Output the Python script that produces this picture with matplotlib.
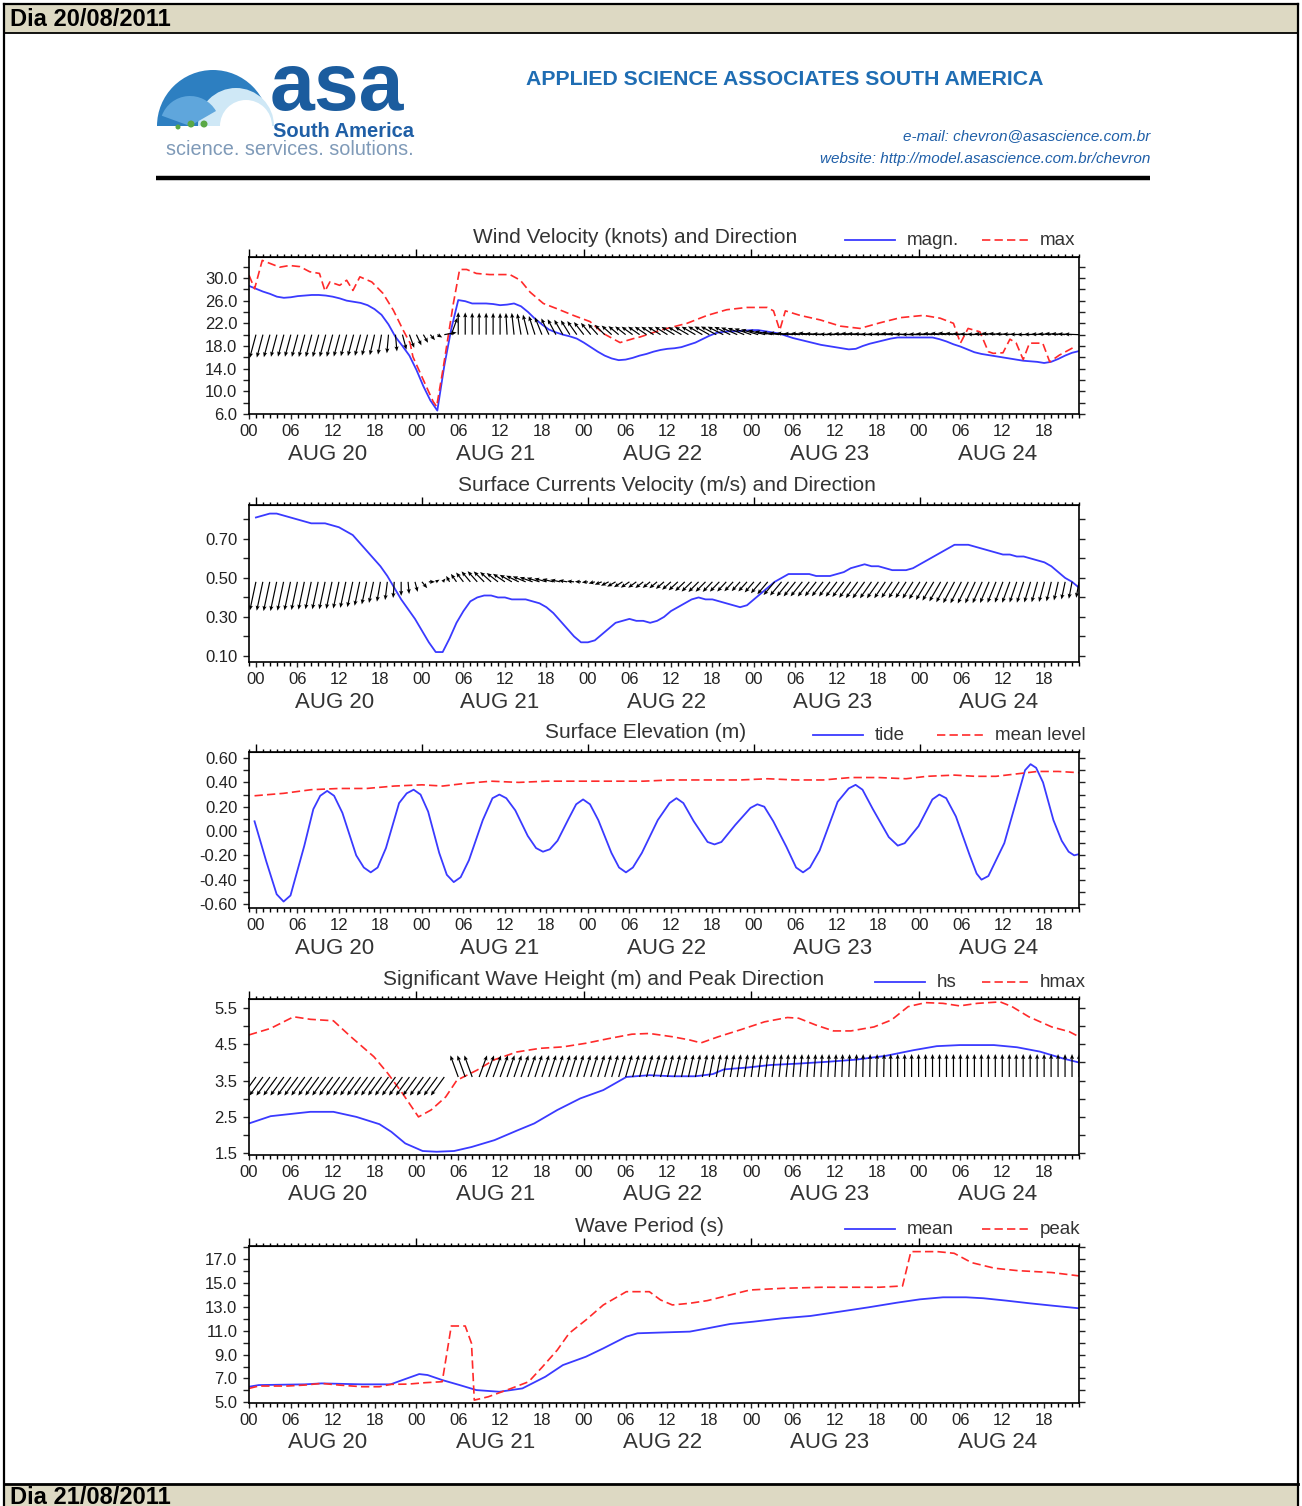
import numpy as np
import matplotlib
matplotlib.use('Agg')
import matplotlib.pyplot as plt
from matplotlib.ticker import MultipleLocator, FixedLocator
from matplotlib.patches import Rectangle, Wedge, Circle
import matplotlib.transforms as mtransforms

plt.rcParams['font.family'] = ['Liberation Sans', 'DejaVu Sans']

# ---------------- data (hours from AUG 20 00) ----------------
# wind: hourly magnitude (knots) and arrow bearing (deg, 0 = up)
wind_speed = [28.6, 28.1, 27.6, 27.2, 26.7, 26.5, 26.6, 26.8, 26.9, 27.0,
              27.0, 26.9, 26.7, 26.4, 26.0, 25.8, 25.6, 25.2, 24.5, 23.5,
              21.8, 19.6, 18.0, 16.3, 13.8, 10.9, 8.4, 6.6, 14.5, 21.0,
              26.1, 25.9, 25.5, 25.5, 25.5, 25.4, 25.2, 25.3, 25.5, 25.0,
              24.0, 22.8, 21.8, 20.9, 20.4, 20.0, 19.7, 19.3, 18.6, 17.8,
              17.0, 16.3, 15.8, 15.5, 15.6, 15.9, 16.3, 16.6, 17.0, 17.3,
              17.5, 17.6, 17.8, 18.2, 18.6, 19.2, 19.8, 20.3, 20.5, 20.6,
              20.6, 20.7, 20.8, 20.8, 20.6, 20.4, 20.2, 19.8, 19.4, 19.1,
              18.8, 18.5, 18.2, 18.0, 17.8, 17.6, 17.4, 17.5, 18.0, 18.4,
              18.7, 19.0, 19.3, 19.5, 19.5, 19.5, 19.5, 19.5, 19.5, 19.2,
              18.8, 18.3, 17.9, 17.4, 16.9, 16.6, 16.4, 16.2, 16.0, 15.8,
              15.6, 15.4, 15.3, 15.2, 15.0, 15.2, 15.7, 16.3, 16.8, 17.1]
wind_dir = [195, 195, 195, 195, 195, 195, 195, 195, 195, 195,
            195, 195, 195, 195, 195, 195, 195, 195, 193, 190,
            185, 175, 165, 160, 155, 150, 140, 120, 80, 20,
            0, 0, 0, 0, 0, 0, 0, 357, 354, 350,
            346, 342, 338, 335, 332, 330, 328, 325, 322, 320,
            318, 315, 312, 310, 308, 306, 305, 304, 303, 302,
            302, 301, 300, 300, 300, 300, 299, 298, 297, 296,
            294, 292, 290, 287, 284, 281, 278, 276, 275, 274,
            275, 276, 274, 273, 272, 273, 274, 275, 274, 273,
            272, 272, 273, 274, 273, 272, 271, 272, 273, 274,
            275, 276, 275, 274, 273, 272, 274, 276, 275, 274,
            273, 272, 271, 272, 273, 274, 275, 274, 273, 272]
wind_max_h = [0, 0.8, 1.9, 4.4, 5.8, 7.3, 8.7, 10.1, 10.9, 11.6,
              13, 14, 14.9, 15.9, 17.6, 19.2, 20.7, 22.1, 23.1, 23.5,
              25, 26.4, 26.9, 27.8, 29.3, 30.2, 31.2, 32.6, 34.5, 37.4,
              38.9, 40.3, 42.2, 44.1, 46.5, 48.9, 50.8, 53.2, 55.1, 56.1,
              59, 62.8, 65.7, 68.5, 71.4, 74.3, 75.2, 76.1, 76.9, 79,
              81.9, 84.8, 87.6, 90.5, 93.4, 96.7, 99.1, 101, 102, 103.1,
              104.8, 106, 106.7, 108.1, 109.1, 110, 111, 111.9, 113.8, 114.8,
              116.2, 118.6]
wind_max = [30.5, 28.1, 33.1, 31.9, 32.2, 32.0, 31.1, 30.8, 27.7, 29.3,
            28.7, 29.6, 27.8, 30.2, 29.3, 27.3, 24.3, 20.8, 18.5, 16.1,
            12.0, 8.2, 7.3, 13.8, 25.5, 31.5, 31.5, 30.8, 30.6, 30.6,
            29.6, 27.5, 25.5, 24.6, 23.4, 22.3, 20.2, 18.6, 19.3, 19.6,
            20.8, 22.0, 23.4, 24.4, 24.8, 24.8, 24.2, 20.8, 24.2, 23.4,
            22.6, 21.5, 21.1, 22.1, 23.0, 23.4, 22.9, 22.0, 18.5, 21.1,
            20.5, 17.0, 16.7, 16.8, 19.2, 18.5, 15.6, 18.5, 18.5, 15.2,
            16.4, 18.0]

# surface currents: hourly speed (m/s) and arrow bearing
cur_speed = [0.81, 0.82, 0.83, 0.83, 0.82, 0.81, 0.80, 0.79, 0.78, 0.78,
             0.78, 0.77, 0.76, 0.74, 0.72, 0.68, 0.64, 0.60, 0.56, 0.51,
             0.45, 0.39, 0.34, 0.29, 0.23, 0.17, 0.12, 0.12, 0.19, 0.27,
             0.33, 0.38, 0.40, 0.41, 0.41, 0.40, 0.40, 0.39, 0.39, 0.39,
             0.38, 0.37, 0.35, 0.32, 0.28, 0.24, 0.20, 0.17, 0.17, 0.18,
             0.21, 0.24, 0.27, 0.28, 0.29, 0.28, 0.28, 0.27, 0.28, 0.30,
             0.33, 0.35, 0.37, 0.39, 0.40, 0.39, 0.39, 0.38, 0.37, 0.36,
             0.35, 0.36, 0.39, 0.42, 0.45, 0.48, 0.50, 0.52, 0.52, 0.52,
             0.52, 0.51, 0.51, 0.51, 0.52, 0.53, 0.55, 0.56, 0.57, 0.56,
             0.56, 0.55, 0.54, 0.54, 0.54, 0.55, 0.57, 0.59, 0.61, 0.63,
             0.65, 0.67, 0.67, 0.67, 0.66, 0.65, 0.64, 0.63, 0.62, 0.62,
             0.61, 0.61, 0.60, 0.59, 0.58, 0.56, 0.53, 0.50, 0.48, 0.45]
cur_dir = [192, 192, 192, 192, 192, 192, 192, 192, 192, 192,
           192, 192, 192, 192, 192, 192, 192, 192, 190, 187,
           184, 180, 175, 165, 140, 90, 60, 40, 330, 325,
           322, 320, 318, 315, 312, 308, 304, 300, 296, 293,
           290, 288, 286, 284, 282, 280, 276, 272, 265, 255,
           248, 243, 240, 238, 236, 234, 232, 231, 230, 229,
           228, 227, 226, 226, 225, 225, 224, 224, 223, 223,
           222, 222, 221, 221, 220, 220, 220, 219, 219, 219,
           218, 218, 218, 217, 217, 217, 216, 216, 216, 215,
           215, 214, 214, 213, 213, 212, 212, 211, 211, 210,
           209, 208, 207, 206, 205, 204, 203, 202, 201, 200,
           199, 198, 197, 196, 195, 194, 193, 192, 191, 190]

# surface elevation
tide_h = [-0.2, 1.5, 3.0, 4.0, 5.0, 7.0, 8.3, 9.3, 10.3, 11.3,
          12.5, 14.5, 15.6, 16.6, 17.6, 18.8, 20.7, 21.8, 22.8, 23.8,
          24.9, 26.5, 27.6, 28.6, 29.6, 30.8, 32.8, 34.2, 35.2, 36.2,
          37.5, 39.3, 40.5, 41.5, 42.5, 43.6, 45.2, 46.3, 47.3, 48.3,
          49.5, 51.4, 52.5, 53.5, 54.5, 55.8, 58.1, 59.8, 60.8, 61.8,
          63.3, 65.3, 66.3, 67.3, 69.3, 71.5, 72.5, 73.5, 74.8, 76.7,
          78.1, 79.1, 80.1, 81.5, 84.1, 85.7, 86.7, 87.7, 89.2, 91.5,
          92.8, 93.8, 95.8, 97.8, 98.8, 99.8, 101.2, 103.2, 104.2, 104.9,
          105.9, 108.2, 110.3, 111.2, 112.0, 112.8, 113.8, 115.3, 116.5, 117.5,
          118.3, 119.0]
tide = [0.08, -0.25, -0.52, -0.58, -0.53, -0.12, 0.18, 0.29, 0.33, 0.29,
        0.15, -0.20, -0.30, -0.34, -0.30, -0.14, 0.23, 0.31, 0.34, 0.30,
        0.16, -0.18, -0.36, -0.42, -0.38, -0.24, 0.09, 0.27, 0.30, 0.27,
        0.17, -0.04, -0.14, -0.17, -0.15, -0.08, 0.10, 0.22, 0.26, 0.22,
        0.09, -0.18, -0.30, -0.34, -0.30, -0.18, 0.09, 0.23, 0.27, 0.23,
        0.08, -0.09, -0.11, -0.09, 0.05, 0.19, 0.22, 0.20, 0.08, -0.13,
        -0.30, -0.34, -0.30, -0.16, 0.24, 0.35, 0.38, 0.34, 0.18, -0.05,
        -0.12, -0.10, 0.04, 0.26, 0.30, 0.27, 0.12, -0.20, -0.35, -0.40,
        -0.37, -0.10, 0.32, 0.50, 0.55, 0.52, 0.40, 0.09, -0.08, -0.17,
        -0.20, -0.19]
mean_lvl_h = [-0.2, 4, 8, 12, 16, 20, 24, 27, 30, 34, 38, 42, 50, 56, 60,
              70, 74, 78, 82, 86, 90, 94, 97, 101, 104, 107, 110, 113, 116, 119]
mean_lvl = [0.29, 0.31, 0.34, 0.35, 0.35, 0.37, 0.38, 0.37, 0.39, 0.41,
            0.40, 0.41, 0.41, 0.41, 0.42, 0.42, 0.43, 0.42, 0.42, 0.44,
            0.44, 0.43, 0.45, 0.46, 0.45, 0.45, 0.47, 0.49, 0.49, 0.48]

# waves
hs_h = [0, 3.1, 6.4, 8.8, 12.1, 15.4, 18.7, 20.4, 22.4, 24.9,
        26.9, 29.4, 31.9, 35.2, 38.5, 40.9, 44.2, 47.5, 50.8, 54.1,
        57.4, 60.7, 64, 66.5, 68.1, 71.4, 74.7, 78.8, 83, 87.1,
        91.2, 95.3, 98.6, 101.9, 106.8, 110.1, 113.4, 116.7, 119]
hs = [2.32, 2.52, 2.59, 2.64, 2.64, 2.50, 2.30, 2.09, 1.77, 1.56,
      1.54, 1.56, 1.67, 1.86, 2.13, 2.32, 2.69, 3.01, 3.24, 3.60,
      3.65, 3.62, 3.62, 3.68, 3.81, 3.86, 3.93, 3.97, 4.02, 4.08,
      4.18, 4.34, 4.45, 4.48, 4.48, 4.42, 4.30, 4.11, 4.00]
hmax_h = [0, 3.1, 6.4, 8.8, 12.1, 14.6, 17.9, 19.9, 22, 24.3,
          26.1, 28.2, 29.8, 32.7, 35.1, 38.4, 41.7, 45, 48.3, 51.6,
          54.9, 57.4, 60.7, 63.2, 64.8, 67.3, 70.6, 73.9, 77.2, 78.8,
          81.3, 83.8, 86.3, 89.6, 92.1, 94.5, 97, 99.5, 101.9, 104.4,
          107.7, 109.4, 111.8, 115.1, 117.6, 119]
hmax = [4.76, 4.94, 5.26, 5.19, 5.15, 4.71, 4.16, 3.70, 3.15, 2.50,
        2.69, 3.05, 3.51, 3.79, 4.07, 4.29, 4.39, 4.43, 4.53, 4.66,
        4.78, 4.80, 4.71, 4.62, 4.54, 4.71, 4.91, 5.12, 5.24, 5.22,
        5.03, 4.87, 4.87, 4.98, 5.17, 5.54, 5.65, 5.63, 5.56, 5.63,
        5.67, 5.54, 5.26, 4.98, 4.85, 4.71]
wave_dir = [216, 216, 216, 216, 216, 216, 216, 216, 216, 216,
            216, 216, 216, 216, 216, 216, 216, 216, 216, 216,
            216, 216, 216, 216, 216, 216, 216, 216, 216, None,
            340, 340, 340, 20, 20, 20, 20, 19, 19, 19,
            19, 18, 18, 18, 18, 18, 17, 17, 17, 17,
            17, 16, 16, 16, 16, 16, 15, 15, 15, 15,
            14, 14, 13, 13, 12, 12, 11, 11, 10, 10,
            9, 9, 8, 8, 7, 7, 6, 6, 5, 5,
            4, 4, 3, 3, 3, 2, 2, 2, 1, 1,
            1, 1, 0, 0, 0, 0, 0, 0, 0, 0,
            0, 0, 0, 0, 0, 0, 0, 0, 0, 0,
            0, 0, 0, 0, 0, 0, 0, 0, 0, 0]

# wave period
tm_h = [0, 1.4, 8, 10.4, 16.2, 20.3, 22, 24.4, 25.6, 27.7,
        30.2, 32.6, 35.9, 39.2, 42.5, 45, 48.3, 50.8, 54.1, 55.7,
        59.9, 63.2, 65.7, 69, 72.3, 76.4, 80.5, 84.7, 88.8, 92.9,
        96.2, 99.5, 102.8, 105.3, 108.6, 111.9, 115.2, 119]
tm = [6.31, 6.45, 6.51, 6.59, 6.51, 6.51, 6.87, 7.37, 7.29, 6.87,
      6.45, 6.03, 5.89, 6.17, 7.15, 8.12, 8.82, 9.52, 10.50, 10.78,
      10.86, 10.92, 11.19, 11.56, 11.75, 12.03, 12.23, 12.59, 12.95, 13.34,
      13.62, 13.79, 13.79, 13.71, 13.51, 13.29, 13.09, 12.87]
tp_h = [0, 1.4, 5.5, 8, 10.4, 12.9, 16.2, 18.7, 20.3, 22.8,
        25.3, 27.7, 28.6, 29, 31, 31.9, 32.3, 34.3, 37.6, 40.1,
        42.1, 44.2, 45.9, 48.3, 50.8, 54.1, 57.4, 59, 60.7, 63.2,
        65.7, 69, 71.8, 76.4, 82.1, 86.3, 90.4, 93.7, 94.9, 98.7,
        101.1, 103.6, 106.9, 110.2, 115.1, 119]
tp = [6.17, 6.37, 6.37, 6.45, 6.59, 6.45, 6.31, 6.31, 6.51, 6.53,
      6.65, 6.73, 9.94, 11.39, 11.39, 9.94, 5.19, 5.47, 6.17, 6.73,
      7.99, 9.38, 10.78, 11.89, 13.15, 14.26, 14.26, 13.57, 13.15, 13.29,
      13.51, 13.99, 14.40, 14.54, 14.63, 14.63, 14.63, 14.74, 17.61, 17.61,
      17.47, 16.69, 16.22, 16.02, 15.86, 15.58]

days = ['AUG 20', 'AUG 21', 'AUG 22', 'AUG 23', 'AUG 24']

# ---------------- page ----------------
W, H = 1302, 1506
fig = plt.figure(figsize=(W / 100, H / 100), dpi=100)
page = fig.add_axes([0, 0, 1, 1])
page.set_xlim(0, W)
page.set_ylim(H, 0)
page.axis('off')

BEIGE = '#ddd9c3'
page.add_patch(Rectangle((4, 4), W - 8, 29, fc=BEIGE, ec='none'))
page.add_patch(Rectangle((4, 1484), W - 8, 30, fc=BEIGE, ec='none'))
page.plot([4, W - 4], [4, 4], 'k', lw=1.6)
page.plot([4, W - 4], [33, 33], 'k', lw=1.3)
page.plot([4, W - 4], [1484, 1484], 'k', lw=2)
page.plot([4, 4], [4, H], 'k', lw=1.6)
page.plot([W - 4, W - 4], [4, H], 'k', lw=1.6)
page.text(10, 19, 'Dia 20/08/2011', fontsize=17, fontweight='bold', va='center', ha='left')
page.text(10, 1497, 'Dia 21/08/2011', fontsize=17, fontweight='bold', va='center', ha='left')

# logo
page.add_patch(Wedge((213, 126), 56, 180, 360, fc='#2d7fc1', ec='none'))
page.add_patch(Wedge((236, 126), 38, 180, 360, fc='#cfe8f6', ec='none'))
page.add_patch(Wedge((246, 126), 26, 180, 360, fc='white', ec='none'))
page.add_patch(Wedge((190, 126), 30, 200, 330, fc='#5fa6dc', ec='none'))
for cx, cy, r in [(178, 127, 2.5), (191, 124, 3.5), (204, 124, 3.5)]:
    page.add_patch(Circle((cx, cy), r, fc='#5aa845', ec='none'))
page.text(270, 110, 'asa', fontsize=58, fontweight='bold', color='#1b5c9e', ha='left', va='baseline')
page.text(273, 137, 'South America', fontsize=14.5, fontweight='bold', color='#1f5fa6', ha='left', va='baseline')
page.text(166, 155, 'science. services. solutions.', fontsize=14.3, color='#7f9ab8', ha='left', va='baseline')

page.text(785, 79, 'APPLIED SCIENCE ASSOCIATES SOUTH AMERICA', fontsize=15.3, fontweight='bold',
          color='#1f6db3', ha='center', va='center')
page.text(1150, 136, 'e-mail: chevron@asascience.com.br', fontsize=11, style='italic',
          color='#1f5fa8', ha='right', va='center')
page.text(1150, 159, 'website: http://model.asascience.com.br/chevron', fontsize=11, style='italic',
          color='#1f5fa8', ha='right', va='center')
page.plot([156, 1150], [178, 178], 'k', lw=3.2, solid_capstyle='butt')

BLUE = '#3a3aff'
RED = '#ff2a2a'
DASH = (0, (5, 2.5))


def legend(y, x_blue, lab_blue, x_red, lab_red):
    page.plot([x_blue, x_blue + 50], [y, y], color=BLUE, lw=1.3)
    page.text(x_blue + 62, y, lab_blue, fontsize=13.5, color='#333333', va='center', ha='left')
    page.plot([x_red, x_red + 47], [y, y], color=RED, lw=1.2, ls=DASH)
    page.text(x_red + 58, y, lab_red, fontsize=13.5, color='#333333', va='center', ha='left')


def make_panel(top, bottom, xmin, ylim, yt, ym, fmt, title, title_x):
    hpx = bottom - top
    ax = fig.add_axes([249 / W, 1 - bottom / H, (1079 - 249) / W, hpx / H])
    ax.set_xlim(xmin, 119)
    ax.set_ylim(*ylim)
    ax.set_yticks(yt)
    ax.set_yticklabels([fmt % v for v in yt])
    ax.yaxis.set_minor_locator(FixedLocator(ym))
    xt = np.arange(0, 115, 6)
    ax.set_xticks(xt)
    ax.set_xticklabels(['%02d' % (h % 24) for h in xt])
    ax.xaxis.set_minor_locator(MultipleLocator(1))
    ax.tick_params(axis='x', which='major', direction='out', length=3.6, width=1, labelsize=12, pad=3.5,
                   colors='#222222')
    ax.tick_params(axis='x', which='minor', direction='out', length=2.6, width=1, top=False)
    ax.tick_params(axis='y', which='both', direction='out', length=4.3, width=1, right=True,
                   labelsize=12, pad=4, colors='#222222')
    for s in ax.spines.values():
        s.set_linewidth(1.2)
    sec = ax.secondary_xaxis('top')
    sec.set_xticks(np.arange(0, 120, 24))
    sec.set_xticklabels([])
    sec.xaxis.set_minor_locator(MultipleLocator(1))
    sec.tick_params(which='major', direction='out', length=6, width=1)
    sec.tick_params(which='minor', direction='out', length=2.3, width=1)
    tr = mtransforms.blended_transform_factory(ax.transData, ax.transAxes)
    for i, d in enumerate(days):
        ax.text(i * 24 + 11.3, -40 / hpx, d, transform=tr, fontsize=16, color='#333333',
                ha='center', va='center')
    page.text(title_x, top - 20, title, fontsize=15, color='#333333', ha='center', va='center')
    return ax


def arrows(ax, hours, base, lengths, bearings):
    b = np.radians(bearings)
    u = lengths * np.sin(b)
    v = lengths * np.cos(b)
    ax.quiver(hours, np.full(len(hours), base), u, v, angles='uv', scale_units='dots', scale=1,
              units='dots', width=1.2, headwidth=3.5, headlength=4.2, headaxislength=3.6,
              pivot='tail', color='k', zorder=3)


# ---- panel 1: wind ----
ax1 = make_panel(257, 414, 0, (6.0, 33.7), [6, 10, 14, 18, 22, 26, 30], [8, 12, 16, 20, 24, 28, 32],
                 '%.1f', 'Wind Velocity (knots) and Direction', 635)
hrs = np.arange(len(wind_speed))
ax1.plot(hrs, wind_speed, color=BLUE, lw=1.3, zorder=2)
ax1.plot(wind_max_h, wind_max, color=RED, lw=1.2, ls=DASH, zorder=2)
arrows(ax1, hrs, 20.0, np.array(wind_speed) * 0.86, np.array(wind_dir, dtype=float))
legend(240, 845, 'magn.', 982, 'max')

# ---- panel 2: currents ----
ax2 = make_panel(505, 662, -1, (0.069, 0.874), [0.1, 0.3, 0.5, 0.7], [0.2, 0.4, 0.6, 0.8],
                 '%.2f', 'Surface Currents Velocity (m/s) and Direction', 667)
hrs = np.arange(len(cur_speed))
ax2.plot(hrs, cur_speed, color=BLUE, lw=1.3, zorder=2)
arrows(ax2, hrs, 0.48, np.array(cur_speed) * 36, np.array(cur_dir, dtype=float))

# ---- panel 3: elevation ----
ax3 = make_panel(752, 908, -1, (-0.633, 0.65), [-0.6, -0.4, -0.2, 0.0, 0.2, 0.4, 0.6],
                 [-0.5, -0.3, -0.1, 0.1, 0.3, 0.5], '%.2f', 'Surface Elevation (m)', 646)
ax3.plot(tide_h, tide, color=BLUE, lw=1.3, solid_joinstyle='round')
ax3.plot(mean_lvl_h, mean_lvl, color=RED, lw=1.2, ls=DASH)
legend(735, 813, 'tide', 937, 'mean level')

# ---- panel 4: waves ----
ax4 = make_panel(999, 1155, 0, (1.45, 5.75), [1.5, 2.5, 3.5, 4.5, 5.5], [2, 3, 4, 5],
                 '%.1f', 'Significant Wave Height (m) and Peak Direction', 604)
ax4.plot(hs_h, hs, color=BLUE, lw=1.3, zorder=2)
ax4.plot(hmax_h, hmax, color=RED, lw=1.2, ls=DASH, zorder=2)
wd = np.array([np.nan if d is None else d for d in wave_dir], dtype=float)
hrs = np.arange(len(wave_dir))
ok = ~np.isnan(wd)
arrows(ax4, hrs[ok], 3.6, np.full(ok.sum(), 23.0), wd[ok])
legend(982, 875, 'hs', 982, 'hmax')

# ---- panel 5: period ----
ax5 = make_panel(1246, 1403, 0, (4.95, 18.08), [5, 7, 9, 11, 13, 15, 17], [6, 8, 10, 12, 14, 16, 18],
                 '%.1f', 'Wave Period (s)', 649)
ax5.plot(tm_h, tm, color=BLUE, lw=1.3)
ax5.plot(tp_h, tp, color=RED, lw=1.2, ls=DASH)
legend(1229, 845, 'mean', 982, 'peak')

fig.savefig('out.png', dpi=100)
